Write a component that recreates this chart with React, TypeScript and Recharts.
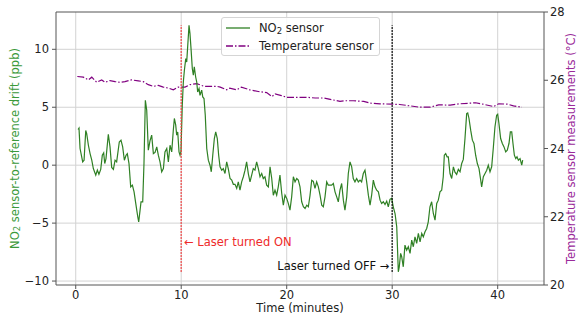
import React from 'react';
import {
  ComposedChart, Line, XAxis, YAxis, CartesianGrid, ReferenceLine, ReferenceArea,
  ReferenceDot, Legend,
} from 'recharts';

// ---- data ----
const no2Time = [
  0.22, 0.31, 0.41, 0.66, 0.79, 0.95, 1.04, 1.2, 1.36, 1.52, 1.67, 1.9, 2.05, 2.2, 2.37, 2.52, 2.65, 2.75, 2.87,
  3.09, 3.25, 3.41, 3.57, 3.73, 3.88, 4.13, 4.29, 4.45, 4.61, 4.77, 4.89, 5.05, 5.21, 5.37, 5.53, 5.69, 5.88,
  5.97, 6.1, 6.19, 6.35, 6.47, 6.6, 6.73, 6.88, 7.04, 7.2, 7.36, 7.52, 7.68, 7.83, 7.99, 8.15, 8.31, 8.46, 8.63,
  8.78, 8.94, 9.1, 9.25, 9.35, 9.48, 9.57, 9.67, 9.79, 9.89, 9.98, 10.1, 10.2, 10.3, 10.43, 10.52, 10.62, 10.74,
  10.83, 10.93, 11.05, 11.15, 11.24, 11.37, 11.47, 11.56, 11.69, 11.78, 11.94, 12.04, 12.16, 12.28, 12.42, 12.57,
  12.73, 12.85, 12.99, 13.14, 13.27, 13.42, 13.55, 13.68, 13.84, 13.99, 14.15, 14.31, 14.46, 14.63, 14.79, 14.94,
  15.1, 15.26, 15.41, 15.57, 15.73, 15.89, 16.05, 16.2, 16.36, 16.52, 16.68, 16.83, 16.99, 17.15, 17.31, 17.47,
  17.63, 17.78, 17.94, 18.1, 18.26, 18.42, 18.58, 18.73, 18.89, 19.05, 19.2, 19.36, 19.53, 19.68, 19.84, 20.0,
  20.15, 20.31, 20.47, 20.63, 20.79, 20.95, 21.1, 21.26, 21.42, 21.58, 21.74, 21.9, 22.05, 22.21, 22.37, 22.52,
  22.68, 22.84, 23.0, 23.16, 23.32, 23.47, 23.63, 23.79, 23.94, 24.1, 24.26, 24.42, 24.58, 24.74, 24.89, 25.05,
  25.21, 25.37, 25.52, 25.69, 25.84, 26.0, 26.16, 26.31, 26.47, 26.63, 26.79, 26.95, 27.1, 27.26, 27.42, 27.58,
  27.74, 27.9, 28.05, 28.21, 28.37, 28.53, 28.69, 28.85, 29.0, 29.16, 29.32, 29.48, 29.63, 29.79, 29.95, 30.1,
  30.27, 30.43, 30.52, 30.58, 30.67, 30.8, 30.9, 31.05, 31.21, 31.37, 31.53, 31.69, 31.85, 32.0, 32.16, 32.32,
  32.48, 32.64, 32.8, 32.95, 33.11, 33.27, 33.42, 33.58, 33.74, 33.9, 34.06, 34.22, 34.37, 34.53, 34.69, 34.84,
  34.94, 35.07, 35.2, 35.32, 35.48, 35.64, 35.8, 35.95, 36.11, 36.27, 36.43, 36.59, 36.74, 36.9, 37.06, 37.16,
  37.28, 37.44, 37.6, 37.75, 37.91, 38.07, 38.23, 38.39, 38.48, 38.64, 38.8, 38.96, 39.11, 39.27, 39.43, 39.58,
  39.74, 39.9, 40.0, 40.12, 40.28, 40.44, 40.6, 40.76, 40.91, 41.07, 41.2, 41.33, 41.45, 41.58, 41.71, 41.83,
  41.96, 42.12, 42.28, 42.37,
];
const no2Drift = [
  3.08, 3.2, 1.44, 0.29, 0.43, 3.0, 2.73, 1.72, 1.0, 0.43, -0.29, -0.86, -0.43, -0.78, -0.37, 0.86, 1.06, 0.14, 0.57,
  2.67, 1.58, -0.2, -0.37, 0.43, 0.29, 2.0, 2.16, 1.58, 0.43, 0.86, 1.0, 0.14, -1.87, -1.72, -2.3, -3.3, -4.45,
  -4.89, -3.88, -3.16, -3.16, 0.14, 5.6, 4.74, 1.29, 2.1, 2.59, 1.0, 1.1, 1.58, 0.86, 0.29, -0.57, -0.29, 1.15, 1.44,
  0.29, 1.72, 1.15, 3.02, 4.03, 3.45, 2.59, 2.87, 1.15, 0.86, 1.2, 5.17, 7.18, 8.19, 9.2, 8.9, 10.34, 12.07,
  11.35, 10.06, 8.34, 7.76, 8.48, 7.61, 7.18, 6.32, 6.61, 6.03, 6.47, 5.89, 5.75, 4.31, 1.44, 0.43,
  0.0, -0.57, 0.86, 2.3, 2.87, 2.3, 0.86, -0.14, -0.43, -0.29, -0.72, 0.29, -0.29, -1.15, -1.29, -1.65,
  -1.65, -2.0, -1.44, -2.16, -1.44, -1.0, -0.43, 0.29, -0.72, -1.44, -0.86, -0.29, -0.43, 0.29, -0.29, -1.0,
  -0.72, -1.15, -1.0, -1.72, -1.87, -0.14, -1.15, -2.59, -2.16, -2.59, -1.87, -0.86, -2.44, -3.45, -2.59, -2.87,
  -3.3, -3.88, -2.73, -1.0, -1.44, -1.15, -1.29, -1.87, -3.16, -3.59, -3.74, -3.45, -3.59, -2.6, -1.3, -1.4,
  -2.0, -1.44, -1.87, -2.59, -3.45, -3.59, -2.73, -1.44, -1.72, -1.72, -1.72, -1.58, -2.3, -2.73, -3.16, -2.16,
  -1.58, -3.02, -3.88, -2.73, -0.72, 0.29, -0.14, -1.15, -1.44, -1.15, -1.44, -1.29, -1.44, -0.72, -0.43, -1.44,
  -2.59, -3.45, -2.59, -1.29, -1.87, -2.16, -2.3, -3.02, -3.3, -3.16, -3.4, -3.1, -3.59, -2.95, -2.85, -3.59,
  -4.17, -5.32, -7.61, -9.2, -8.77, -7.61, -7.9, -8.77, -6.9, -7.33, -7.04, -7.61, -6.47, -7.04, -6.18, -6.75,
  -5.89, -6.61, -5.89, -6.18, -5.75, -5.46, -4.89, -3.59, -3.16, -4.17, -4.74, -3.3, -3.02, -2.3, -2.16, -1.0,
  0.86, 1.0, 0.72, 0.72, -0.72, -1.15, -0.14, -0.6, -0.8, -0.36, -0.57, 0.15, 0.5, 2.3, 4.45, 4.51,
  4.03, 3.02, 2.16, 1.87, 0.86, 0.14, -0.29, -1.29, -1.87, -1.0, -0.72, -0.43, 0.0, -0.57, -0.14, 1.44,
  3.3, 4.31, 4.4, 3.59, 2.3, 1.87, 1.58, 1.15, 1.29, 1.87, 2.87, 2.87, 1.87, 0.86, 0.57, 0.72,
  0.43, 0.57, 0.0, 0.43,
];
const tempTime = [
  0.15, 0.72, 1.2, 1.52, 1.99, 2.46, 2.78, 3.25, 3.73, 4.2, 4.67, 5.3, 5.93, 6.41, 6.88, 7.36, 7.83, 8.3, 8.78,
  9.25, 9.73, 10.36, 10.83, 11.47, 12.2, 12.8, 13.4, 13.7, 14.3, 14.6, 15.26, 15.7, 16.5, 17.3, 18.1, 18.6, 18.9,
  19.5, 20.0, 20.95, 21.9, 22.7, 23.5, 24.3, 25.05, 25.5, 26.3, 27.3, 27.9, 28.85, 29.95, 30.7, 31.7, 32.6, 33.6,
  34.4, 35.5, 36.4, 37.9, 38.6, 39.6, 40.1, 40.9, 41.5, 42.3,
];
const tempValue = [
  26.11, 26.09, 26.01, 26.09, 25.94, 26.01, 25.94, 25.99, 25.96, 25.94, 25.96, 26.01, 25.98, 25.96, 25.87, 25.82,
  25.85, 25.8, 25.77, 25.72, 25.8, 25.8, 25.87, 25.9, 25.82, 25.82, 25.82, 25.8, 25.72, 25.77, 25.72, 25.8, 25.72,
  25.67, 25.64, 25.52, 25.6, 25.55, 25.5, 25.5, 25.5, 25.48, 25.48, 25.43, 25.38, 25.4, 25.4, 25.38, 25.33, 25.31,
  25.3, 25.29, 25.25, 25.21, 25.21, 25.28, 25.27, 25.31, 25.34, 25.3, 25.23, 25.31, 25.3, 25.25, 25.21,
];
const xTicks = [0, 10, 20, 30, 40];
const leftTicks = [-10, -5, 0, 5, 10];
const rightTicks = [20, 22, 24, 26, 28];
const laserOnTime = 10;
const laserOffTime = 30;
const labelOn = '\u2190 Laser turned ON';
const labelOff = 'Laser turned OFF \u2192';
const seriesNames = ['NO2 sensor', 'Temperature sensor'];

const X_DOMAIN: [number, number] = [-1.87, 44.39];
const L_DOMAIN: [number, number] = [-10.34, 13.22];
const R_DOMAIN: [number, number] = [20, 28];

const no2Data = no2Time.map((t, i) => ({ t, v: no2Drift[i] }));
const tempData = tempTime.map((t, i) => ({ t, v: tempValue[i] }));
const no2Min = Math.min(...no2Drift);
const no2Max = Math.max(...no2Drift);

const FONT = 'DejaVu Sans';
const FS = 11.5;
const GREEN = '#2f8024';
const PURPLE = '#800080';
const SPINE = '#555';

const fmt = (v: number) => (v < 0 ? '\u2212' + Math.abs(v) : String(v));

const LeftLabel = (props: any) => {
  const vb = props.viewBox || { x: 0, y: 12, width: 56, height: 273 };
  const cx = vb.x + 15;
  const cy = vb.y + vb.height / 2;
  return (
    <text x={cx} y={cy} transform={`rotate(-90, ${cx}, ${cy})`} textAnchor="middle" dominantBaseline="central"
      fill="#3a993a" fontSize={FS} fontFamily={FONT}>
      <tspan>NO</tspan>
      <tspan baselineShift="-25%" fontSize={8.5}>2</tspan>
      <tspan> sensor-to-reference drift (ppb)</tspan>
    </text>
  );
};

const RightLabel = (props: any) => {
  const vb = props.viewBox || { x: 544, y: 12, width: 34, height: 273 };
  const cx = vb.x + 27;
  const cy = vb.y + vb.height / 2;
  return (
    <text x={cx} y={cy} transform={`rotate(-90, ${cx}, ${cy})`} textAnchor="middle" dominantBaseline="central"
      fill="#9a2a9a" fontSize={FS} fontFamily={FONT}>
      Temperature sensor measurements (°C)
    </text>
  );
};

const BottomLabel = (props: any) => {
  const vb = props.viewBox || { x: 56, y: 285, width: 488, height: 33 };
  return (
    <text x={vb.x + vb.width / 2} y={vb.y + 23} textAnchor="middle" dominantBaseline="central"
      fill="#222" fontSize={FS} fontFamily={FONT}>
      Time (minutes)
    </text>
  );
};

const LegendBox = () => (
  <div style={{
    boxSizing: 'border-box', width: 159, height: 39, background: 'rgba(255,255,255,0.85)',
    border: '1px solid #d5d5d5', borderRadius: 3, paddingTop: 1, fontFamily: FONT, fontSize: FS, color: '#222',
  }}>
    <div style={{ display: 'flex', alignItems: 'center', height: 18 }}>
      <svg width={24} height={10} style={{ marginLeft: 4 }}>
        <line x1={0} y1={5} x2={24} y2={5} stroke={GREEN} strokeWidth={1.3} />
      </svg>
      <span style={{ marginLeft: 9, whiteSpace: 'nowrap' }}>
        NO<span style={{ fontSize: 8.5, verticalAlign: '-2px' }}>2</span> sensor
      </span>
    </div>
    <div style={{ display: 'flex', alignItems: 'center', height: 18 }}>
      <svg width={24} height={10} style={{ marginLeft: 4 }}>
        <line x1={0} y1={5} x2={24} y2={5} stroke={PURPLE} strokeWidth={1.3} strokeDasharray="7 2 1.5 2" />
      </svg>
      <span style={{ marginLeft: 9, whiteSpace: 'nowrap' }}>{seriesNames[1]}</span>
    </div>
  </div>
);

const tickStyle = { fontSize: FS, fill: '#222', fontFamily: FONT };

export default function App() {
  return (
    <div style={{ position: 'absolute', left: 0, top: 0, width: 578, height: 318, background: '#fff' }}>
      <ComposedChart width={578} height={318} margin={{ top: 12, right: 0, bottom: 0, left: 0 }}>
        <CartesianGrid yAxisId="left" stroke="#d3d3d3" strokeWidth={1} horizontalValues={leftTicks} verticalValues={xTicks} />
        <XAxis type="number" dataKey="t" domain={X_DOMAIN} ticks={xTicks} allowDataOverflow height={33}
          tick={tickStyle} tickSize={4} tickMargin={2} axisLine={false} tickLine={{ stroke: SPINE }}
          label={<BottomLabel />} />
        <YAxis yAxisId="left" type="number" domain={L_DOMAIN} ticks={leftTicks} allowDataOverflow width={56}
          tick={tickStyle} tickFormatter={fmt} tickSize={4} tickMargin={3} axisLine={false}
          tickLine={{ stroke: SPINE }} label={<LeftLabel />} />
        <YAxis yAxisId="right" orientation="right" type="number" domain={R_DOMAIN} ticks={rightTicks}
          allowDataOverflow width={34} tick={tickStyle} tickSize={4} tickMargin={2} axisLine={false}
          tickLine={{ stroke: SPINE }} label={<RightLabel />} />
        <ReferenceArea yAxisId="left" x1={X_DOMAIN[0]} x2={X_DOMAIN[1]} y1={L_DOMAIN[0]} y2={L_DOMAIN[1]}
          fill="none" fillOpacity={0} stroke={SPINE} strokeWidth={1} ifOverflow="visible" />
        <Line yAxisId="right" data={tempData} dataKey="v" name={seriesNames[1]} type="linear" stroke={PURPLE}
          strokeWidth={1.2} strokeDasharray="7 2 1.5 2" dot={false} activeDot={false} isAnimationActive={false} />
        <Line yAxisId="left" data={no2Data} dataKey="v" name={seriesNames[0]} type="linear" stroke={GREEN}
          strokeWidth={1.2} dot={false} activeDot={false} isAnimationActive={false} />
        <ReferenceLine yAxisId="left" segment={[{ x: laserOnTime, y: no2Min }, { x: laserOnTime, y: no2Max }]}
          stroke="#f03c3c" strokeWidth={1.5} strokeDasharray="1.5 1.5" ifOverflow="visible" />
        <ReferenceLine yAxisId="left" segment={[{ x: laserOffTime, y: no2Min }, { x: laserOffTime, y: no2Max }]}
          stroke="#000" strokeWidth={1.5} strokeDasharray="1.5 1.5" ifOverflow="visible" />
        <ReferenceDot yAxisId="left" x={10.27} y={-6.64} r={0} fill="none" stroke="none"
          label={{ value: labelOn, position: 'right', offset: 0, fill: '#ee2a2a', fontSize: FS, fontFamily: FONT }} />
        <ReferenceDot yAxisId="left" x={29.74} y={-8.71} r={0} fill="none" stroke="none"
          label={{ value: labelOff, position: 'left', offset: 0, fill: '#111', fontSize: FS, fontFamily: FONT }} />
        <Legend layout="horizontal" verticalAlign="middle" align="center" content={<LegendBox />}
          wrapperStyle={{ left: 221, top: 17, width: 159, height: 39 }} />
      </ComposedChart>
    </div>
  );
}
